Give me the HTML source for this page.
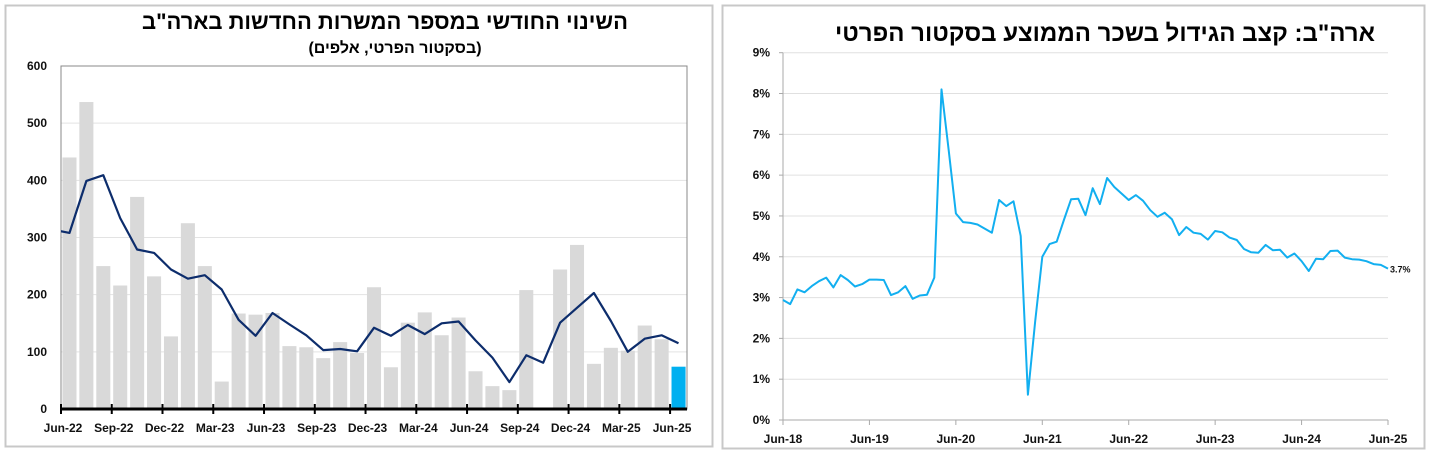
<!DOCTYPE html>
<html><head><meta charset="utf-8">
<style>
html,body{margin:0;padding:0;background:#fff;}
body{width:1430px;height:452px;position:relative;overflow:hidden;font-family:"Liberation Sans","Noto Sans CJK SC",sans-serif;}
svg text{font-family:"Liberation Sans","Noto Sans CJK SC",sans-serif;font-weight:bold;}
</style></head>
<body>
<svg id="chart" width="1430" height="452" viewBox="0 0 1430 452" xmlns="http://www.w3.org/2000/svg">
  <rect x="5.5" y="5.5" width="707" height="441" fill="#fff" stroke="#c8c8c8" stroke-width="2"/>
  <rect x="722.5" y="5.5" width="702" height="443" fill="#fff" stroke="#c8c8c8" stroke-width="2"/>
  <text x="385" y="29" text-anchor="middle" font-size="22" direction="rtl">השינוי החודשי במספר המשרות החדשות בארה"ב</text>
  <text x="395" y="53" text-anchor="middle" font-size="16" direction="rtl">(בסקטור הפרטי, אלפים)</text>
  <text x="1105" y="41" text-anchor="middle" font-size="24" direction="rtl">ארה"ב: קצב הגידול בשכר הממוצע בסקטור הפרטי</text>
  <g id="left"></g>
  <g id="right"></g>
  <defs><clipPath id="lclip"><rect x="61" y="60" width="626" height="360"/></clipPath></defs>
</svg>
<script>
// ---- Left chart data ----
const jobMonths = ["Jun-22","Jul-22","Aug-22","Sep-22","Oct-22","Nov-22","Dec-22","Jan-23","Feb-23","Mar-23","Apr-23","May-23","Jun-23","Jul-23","Aug-23","Sep-23","Oct-23","Nov-23","Dec-23","Jan-24","Feb-24","Mar-24","Apr-24","May-24","Jun-24","Jul-24","Aug-24","Sep-24","Oct-24","Nov-24","Dec-24","Jan-25","Feb-25","Mar-25","Apr-25","May-25","Jun-25"];
const jobBars = [440,537,250,216,371,232,127,325,250,48,167,165,168,110,108,89,117,98,213,73,151,169,129,160,66,40,33,208,0,244,287,79,107,102,146,122,74];
const jobAvg = [308,399,409,334,279,273,244,228,234,209,156,128,168,148,129,103,105,101,142,128,147,131,150,153,120,90,47,94,81,151,177,203,154,100,123,129,115];
const jobAvgPrev = 314;
const jobTicks = [0,100,200,300,400,500,600];
const jobXLabels = ["Jun-22","Sep-22","Dec-22","Mar-23","Jun-23","Sep-23","Dec-23","Mar-24","Jun-24","Sep-24","Dec-24","Mar-25","Jun-25"];

// ---- Right chart data ----
const wageStart = "Jun-18";
const wageValues = [2.94,2.84,3.20,3.13,3.28,3.40,3.49,3.25,3.55,3.43,3.27,3.33,3.44,3.44,3.43,3.06,3.13,3.28,2.97,3.05,3.07,3.49,8.10,6.61,5.06,4.85,4.83,4.79,4.69,4.59,5.39,5.24,5.36,4.51,0.62,2.40,4.00,4.31,4.37,4.90,5.41,5.42,5.02,5.68,5.29,5.93,5.71,5.55,5.39,5.51,5.37,5.14,4.98,5.08,4.92,4.53,4.73,4.59,4.56,4.42,4.63,4.60,4.47,4.41,4.19,4.11,4.10,4.29,4.16,4.17,3.98,4.08,3.89,3.65,3.95,3.94,4.14,4.15,3.98,3.94,3.93,3.89,3.82,3.80,3.71];
const wageTicks = [0,1,2,3,4,5,6,7,8,9];
const wageXLabels = ["Jun-18","Jun-19","Jun-20","Jun-21","Jun-22","Jun-23","Jun-24","Jun-25"];
const wageLastLabel = "3.7%";

const NS = "http://www.w3.org/2000/svg";
function mk(tag, attrs, parent, text){
  const e = document.createElementNS(NS, tag);
  for (const k in attrs) e.setAttribute(k, attrs[k]);
  if (text !== undefined) e.textContent = text;
  parent.appendChild(e);
  return e;
}

// ---- Left chart ----
(function(){
  const g = document.getElementById('left');
  const L = 61, R = 687, T = 66, B = 409;
  const n = jobMonths.length;
  const slot = (R - L) / n;
  const yMax = jobTicks[jobTicks.length-1];
  const y = v => B - (v / yMax) * (B - T);
  const xc = i => L + slot * (i + 0.5);
  jobTicks.forEach(t => {
    if (t > 0) {
      const gl = mk('line', {x1:L, x2:R, y1:y(t), y2:y(t), stroke:'#e3e3e3', 'stroke-width':1}, g);
      
      
    }
    const tl = mk('text', {x:L-14, y:y(t)+4, 'text-anchor':'end', 'font-size':12, fill:'#111'}, g, String(t));
    
    
  });
  const frame = mk('rect', {x:L, y:T, width:R-L, height:B-T, fill:'none', stroke:'#888', 'stroke-width':1}, g);
  
  
  jobBars.forEach((v, i) => {
    const bw = slot * 0.83;
    const b = mk('rect', {x:xc(i)-bw/2, y:y(v), width:bw, height:B-y(v), fill: i===n-1 ? '#00b0f0' : '#d9d9d9'}, g);
    
    
  });
  let d = 'M' + (xc(-1)) + ',' + y(jobAvgPrev);
  jobAvg.forEach((v, i) => { d += ' L' + xc(i).toFixed(1) + ',' + y(v).toFixed(1); });
  const ln = mk('path', {d:d, fill:'none', stroke:'#0d2d6c', 'stroke-width':2.2, 'clip-path':'url(#lclip)', 'stroke-linejoin':'round'}, g);
  
  
  const ax = mk('line', {x1:L, x2:R, y1:B, y2:B, stroke:'#000', 'stroke-width':3}, g);
  
  
  jobXLabels.forEach((lab, k) => {
    const xi = L + slot * (k * 3);
    const tk = mk('line', {x1:xi, x2:xi, y1:B-5, y2:B+5, stroke:'#000', 'stroke-width':2}, g);
    
    
    const tl = mk('text', {x:xi+2, y:B+23, 'text-anchor':'middle', 'font-size':12, fill:'#111'}, g, lab);
    
    
  });
})();

// ---- Right chart ----
(function(){
  const g = document.getElementById('right');
  const L = 783, R = 1388, T = 52.7, B = 420;
  const n = wageValues.length;
  const step = (R - L) / (n - 1);
  const yMax = wageTicks[wageTicks.length-1];
  const y = v => B - (v / yMax) * (B - T);
  const x = i => L + step * i;
  wageTicks.forEach(t => {
    if (t > 0) {
      const gl = mk('line', {x1:L, x2:R, y1:y(t), y2:y(t), stroke:'#e0e0e0', 'stroke-width':1}, g);
      
      
    }
    const tk = mk('line', {x1:L-4, x2:L, y1:y(t), y2:y(t), stroke:'#aaa', 'stroke-width':1}, g);
    
    
    const tl = mk('text', {x:L-13, y:y(t)+4, 'text-anchor':'end', 'font-size':12, fill:'#111'}, g, t + '%');
    
    
  });
  const ya = mk('line', {x1:L, x2:L, y1:T, y2:B, stroke:'#aaa', 'stroke-width':1}, g);
  
  
  const xa = mk('line', {x1:L, x2:R, y1:B, y2:B, stroke:'#aaa', 'stroke-width':1}, g);
  
  
  wageXLabels.forEach((lab, k) => {
    const xi = x(k * 12);
    const tk = mk('line', {x1:xi, x2:xi, y1:B, y2:B+5, stroke:'#aaa', 'stroke-width':1}, g);
    
    
    const tl = mk('text', {x:xi, y:B+23, 'text-anchor':'middle', 'font-size':12, fill:'#111'}, g, lab);
    
    
  });
  let d = '';
  wageValues.forEach((v, i) => { d += (i ? ' L' : 'M') + x(i).toFixed(1) + ',' + y(v).toFixed(1); });
  const ln = mk('path', {d:d, fill:'none', stroke:'#12aff0', 'stroke-width':2, 'stroke-linejoin':'round'}, g);
  
  
  const lbl = mk('text', {x:x(n-1)+2, y:y(wageValues[n-1])+4, 'font-size':9, fill:'#111'}, g, wageLastLabel);
  
  
})();
</script>
</body></html>
